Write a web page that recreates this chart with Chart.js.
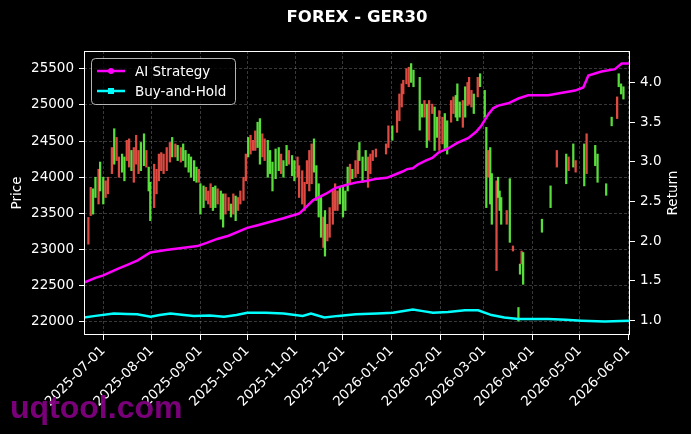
<!DOCTYPE html>
<html>
<head>
<meta charset="utf-8">
<script src="https://cdn.jsdelivr.net/npm/chart.js@4.4.0/dist/chart.umd.min.js"></script>
<style>
  html, body { margin: 0; padding: 0; background: #000; }
  #wrap { width: 691px; height: 434px; }
</style>
</head>
<body>
<div id="wrap"><canvas id="chart" width="691" height="434"></canvas></div>
<script>
// x values are days counted from 2025-07-01
const tickLabels = ['2025-07-01', '2025-08-01', '2025-09-01', '2025-10-01', '2025-11-01', '2025-12-01',
    '2026-01-01', '2026-02-01', '2026-03-01', '2026-04-01', '2026-05-01', '2026-06-01'];
const priceTicks = [22000, 22500, 23000, 23500, 24000, 24500, 25000, 25500];
const returnTicks = [1.0, 1.5, 2.0, 2.5, 3.0, 3.5, 4.0];

// candles (price axis)
const candleDay = [
    -9.5, -8, -6.5, -5, -3, -2, 0, 1.5, 3, 5.5, 7, 8.5, 10, 12, 13.5, 15, 16.5, 18, 19.5, 21,
    22.5, 24, 26, 27.5, 29, 30, 32.5, 34, 35.5, 37, 38.5, 40.5, 42.5, 44, 46, 47.5, 49.5, 51, 52.5, 54.5,
    56, 58, 59.5, 61, 62, 64, 65.5, 67, 68.5, 70, 71.5, 73, 75, 76.5, 78, 80, 81.5, 83, 84.5, 86,
    87.5, 89.5, 91, 92.5, 94, 95.5, 97, 98.5, 100, 101.5, 103,
    105, 106.5, 108, 110, 112, 113.5, 115, 117, 118.5, 120.5, 122, 124, 125, 127, 128.5, 130, 131.5, 133, 134.5, 136,
    137.5, 139, 140.5, 141.5, 143, 144.5, 146.5, 148, 149.5, 151, 153, 154.5, 156, 157.5, 159, 161, 162.5, 163.5, 165.5, 167.5,
    169, 170.5, 172, 174, 180.5, 182, 184.5, 187.5, 189, 190.5, 191.5, 193.5, 195, 196.5, 198, 202, 203.5, 205, 206.5, 208,
    210, 211.5, 213, 214.5, 216.5, 218, 219.5,
    222, 223.5, 225, 226, 227.5, 229.5, 231, 232.5, 233.5, 235, 236.5, 239, 240.5, 243.5, 244.5, 245.5, 247, 248, 251, 252,
    253, 254, 257.5, 259.5, 261.5, 265, 266, 267, 268, 280, 285.5, 289.5, 295.5, 297, 300, 301.5, 307, 308.5, 314, 315.5,
    321, 324.5, 328, 329, 330.5, 332
];
const candleOpen = [
    23445, 23860, 23490, 23720, 24110, 23810, 23630, 23950, 24000, 24410, 24180, 24550, 24280, 24070, 23950, 24510, 24530, 24090, 24410, 24580,
    24370, 24090, 24160, 24370, 23810, 23400, 24180, 24110, 24320, 24340, 24320, 24410, 24480, 24280, 24460, 24230, 24410, 24230, 24140, 24070,
    24000, 23950, 23930, 24110, 23490, 23580, 23860, 23810, 23910, 23540, 23580, 23840, 23420, 23310, 23770, 23720, 23450, 23770, 23400, 23720,
    23810, 24000, 24320, 24280, 24580, 24510, 24640, 24410, 24180, 24600, 24530,
    24000, 24050, 23810, 23980, 24090, 24320, 24000, 24160, 24370, 24020, 23950, 24280, 24160, 24090, 23930, 24230, 24370, 24460, 24070, 23680,
    23450, 23170, 23450, 22910, 23350, 23580, 23810, 23910, 23810, 23630, 23450, 23540, 23810, 24180, 23980, 24230, 24370, 24230, 23930, 24090,
    24280, 24320, 24370, 24390, 24460, 24710, 24510, 24920, 25150, 25290, 25340, 25500, 25520, 25310, 25250, 24650, 24830, 25060, 24410, 25060,
    25010, 24370, 24550, 24920, 24830, 24370, 24320,
    25060, 25110, 24830, 24780, 24830, 25060, 24830, 25310, 25380, 25200, 24880, 25380, 25250, 24830, 23580, 24370, 23630, 23350, 23950, 23720,
    23540, 23350, 23540, 23100, 23050, 22010, 22660, 22980, 22520, 23240, 23580, 24370, 23910, 24280, 24140, 24230, 23880, 24600, 24160, 23930,
    23750, 24710, 25110, 25250, 25150, 25080
];
const candleClose = [
    23075, 23470, 23840, 24000, 23630, 24210, 24000, 23720, 23770, 24050, 24670, 24230, 24000, 24320, 24280, 24230, 24140, 24370, 23930, 24180,
    24050, 24480, 24600, 24140, 24140, 23930, 23580, 23770, 23950, 24090, 24050, 24090, 24210, 24550, 24280, 24440, 24210, 24460, 24370, 24320,
    24280, 24230, 24140, 23930, 23910, 23880, 23680, 23630, 23580, 23860, 23880, 23630, 23810, 23770, 23490, 23540, 23630, 23490, 23740, 23540,
    23630, 23680, 23950, 24550, 24320, 24370, 24370, 24760, 24810, 24280, 24230,
    24510, 24370, 24210, 24390, 24410, 24050, 24230, 24440, 24180, 24300, 24230, 24000, 23720, 23630, 23540, 23910, 23810, 23910, 24530, 24160,
    23910, 23720, 23030, 23540, 23120, 23170, 23350, 23540, 23540, 23860, 23860, 23810, 24140, 23910, 24110, 24000, 24050, 24480, 24280, 24370,
    23860, 24050, 24230, 24280, 24320, 24410, 24710, 24620, 24780, 24970, 25150, 25290, 25250, 25570, 25480, 25380, 25010, 24830, 25010, 24510,
    24880, 24970, 24830, 24370, 24460, 24880, 24780,
    24760, 24880, 25130, 25290, 25040, 24690, 25250, 24990, 25010, 24970, 25150, 25110, 25430, 25200, 24690, 24000, 24410, 24050, 22710, 24000,
    23810, 23720, 23350, 23980, 22980, 22200, 22800, 22800, 22960, 23420, 23880, 24140, 24320, 24090, 24460, 24070, 24460, 24050, 24440, 24320,
    23910, 24830, 24810, 25430, 25290, 25250
];

// AI Strategy return (right axis)
const aiDay = [-12.3, -5, 0, 8.8, 15, 22, 30, 40, 51.4, 60, 66, 72.7, 80, 91.9, 98, 103.8, 115, 125, 129.4, 134,
    142.2, 148, 155, 161, 167.7, 175, 181, 184.8, 191, 194, 197.6, 201, 206.1, 210, 214, 220.1, 226, 232.9, 238, 241.4,
    245.7, 249, 252.1, 258.5, 264.9, 271.2, 284, 292, 301.1, 306.4, 309.6, 318, 326.6, 330.9, 336];
const aiReturn = [1.48, 1.54, 1.57, 1.65, 1.70, 1.76, 1.86, 1.89, 1.92, 1.94, 1.98, 2.03, 2.07, 2.17, 2.20, 2.23, 2.29, 2.35, 2.43, 2.52,
    2.60, 2.67, 2.71, 2.74, 2.76, 2.79, 2.80, 2.83, 2.88, 2.91, 2.92, 2.97, 3.02, 3.05, 3.12, 3.17, 3.24, 3.30, 3.38, 3.46,
    3.60, 3.68, 3.71, 3.74, 3.80, 3.84, 3.84, 3.87, 3.90, 3.94, 4.09, 4.14, 4.17, 4.24, 4.24];

// Buy-and-Hold return (right axis)
const bhDay = [-12.3, -5, 6.7, 15, 21.6, 30.2, 36, 42.9, 50, 57.8, 68, 77, 85, 91.9, 103.8, 115, 127.3, 132.6, 141.1, 150,
    161.3, 175, 184.8, 197.6, 204, 210.4, 220.1, 230.8, 239.3, 247.8, 256, 264.9, 284, 295, 305.3, 320, 336];
const bhReturn = [1.04, 1.06, 1.09, 1.085, 1.08, 1.05, 1.07, 1.09, 1.075, 1.06, 1.065, 1.05, 1.07, 1.10, 1.10, 1.09, 1.06, 1.09, 1.04, 1.06,
    1.08, 1.09, 1.10, 1.14, 1.12, 1.10, 1.11, 1.13, 1.13, 1.07, 1.04, 1.02, 1.02, 1.01, 1.00, 0.99, 1.00];

const dayOf = s => (Date.parse(s) - Date.parse('2025-07-01')) / 86400000;

const upColor = 'rgba(95,240,65,0.92)';
const downColor = 'rgba(240,80,70,0.92)';
const font = { family: 'DejaVu Sans', size: 13.5 };
const gridColor = 'rgba(255,255,255,0.28)';

// title, legend, frame, right axis title and watermark
const extras = {
    id: 'extras',
    afterDraw(chart) {
        const ctx = chart.ctx;
        const a = chart.chartArea;
        ctx.save();

        // frame
        ctx.strokeStyle = '#fff';
        ctx.lineWidth = 1;
        ctx.strokeRect(Math.round(a.left) + 0.5, Math.round(a.top) + 0.5,
            Math.round(a.right - a.left) - 1, Math.round(a.bottom - a.top) - 1);

        // title
        ctx.fillStyle = '#fff';
        ctx.font = 'bold 16.5px "DejaVu Sans"';
        ctx.textAlign = 'center';
        ctx.textBaseline = 'middle';
        ctx.fillText('FOREX - GER30', (a.left + a.right) / 2, 18);

        // right axis title, reading upwards
        ctx.save();
        ctx.translate(a.right + 43, (a.top + a.bottom) / 2);
        ctx.rotate(-Math.PI / 2);
        ctx.font = '13.5px "DejaVu Sans"';
        ctx.fillText('Return', 0, 0);
        ctx.restore();

        // legend
        const lx = a.left + 7, ly = a.top + 7, lw = 144, lh = 46;
        ctx.beginPath();
        ctx.roundRect(lx + 0.5, ly + 0.5, lw, lh, 4);
        ctx.fillStyle = 'rgba(0,0,0,0.8)';
        ctx.fill();
        ctx.strokeStyle = 'rgba(210,210,210,0.85)';
        ctx.stroke();
        const rows = chart.data.datasets.filter(d => d.type === 'line');
        rows.forEach((d, i) => {
            const y = ly + 13 + i * 20;
            ctx.strokeStyle = d.borderColor;
            ctx.fillStyle = d.borderColor;
            ctx.lineWidth = 2.5;
            ctx.beginPath();
            ctx.moveTo(lx + 6, y);
            ctx.lineTo(lx + 34, y);
            ctx.stroke();
            if (d.pointStyle === 'rect') {
                ctx.fillRect(lx + 17, y - 3, 6, 6);
            } else {
                ctx.beginPath();
                ctx.arc(lx + 20, y, 3, 0, Math.PI * 2);
                ctx.fill();
            }
            ctx.fillStyle = '#fff';
            ctx.font = '13.5px "DejaVu Sans"';
            ctx.textAlign = 'left';
            ctx.textBaseline = 'middle';
            ctx.fillText(d.label, lx + 44, y + 1);
        });

        // watermark
        ctx.fillStyle = 'rgba(128,0,128,0.95)';
        ctx.font = 'bold 32px "Liberation Sans"';
        ctx.textAlign = 'left';
        ctx.textBaseline = 'alphabetic';
        ctx.fillText('uqtool.com', 10, 418);
        ctx.restore();
    }
};

const ctx = document.getElementById('chart').getContext('2d');
new Chart(ctx, {
    type: 'bar',
    data: {
        datasets: [
            {
                type: 'line',
                label: 'AI Strategy',
                data: aiDay.map((d, i) => ({ x: d, y: aiReturn[i] })),
                yAxisID: 'y1',
                borderColor: '#ff00ff',
                backgroundColor: '#ff00ff',
                borderWidth: 2.5,
                pointRadius: 0,
                pointStyle: 'circle',
                tension: 0,
                order: 1
            },
            {
                type: 'line',
                label: 'Buy-and-Hold',
                data: bhDay.map((d, i) => ({ x: d, y: bhReturn[i] })),
                yAxisID: 'y1',
                borderColor: '#00ffff',
                backgroundColor: '#00ffff',
                borderWidth: 2.5,
                pointRadius: 0,
                pointStyle: 'rect',
                tension: 0,
                order: 2
            },
            {
                type: 'bar',
                label: 'Price',
                data: candleDay.map((d, i) => ({ x: d, y: [candleOpen[i], candleClose[i]] })),
                yAxisID: 'y',
                backgroundColor: c => {
                    const i = c.dataIndex;
                    if (i === undefined) return upColor;
                    return candleClose[i] >= candleOpen[i] ? upColor : downColor;
                },
                barThickness: 1.6,
                order: 3
            }
        ]
    },
    options: {
        responsive: false,
        animation: false,
        devicePixelRatio: 1,
        layout: { padding: { top: 51, left: 0, right: 0, bottom: 0 } },
        plugins: {
            legend: { display: false },
            tooltip: { enabled: false },
            title: { display: false }
        },
        scales: {
            x: {
                type: 'linear',
                offset: false,
                min: -12.3,
                max: 336.2,
                afterBuildTicks: s => { s.ticks = tickLabels.map(t => ({ value: dayOf(t) })); },
                afterFit: s => { s.height = 99; },
                ticks: {
                    color: '#fff',
                    font: font,
                    autoSkip: false,
                    minRotation: 45,
                    maxRotation: 45,
                    padding: 3,
                    callback: (v, i) => tickLabels[i]
                },
                grid: { offset: false, color: gridColor, lineWidth: 0.8, tickColor: '#fff', tickLength: 5, tickWidth: 1 },
                border: { display: false, dash: [3, 2] }
            },
            y: {
                position: 'left',
                min: 21820,
                max: 25744,
                afterBuildTicks: s => { s.ticks = priceTicks.map(v => ({ value: v })); },
                afterFit: s => { s.width = 84; },
                ticks: { color: '#fff', font: font, padding: 5, callback: v => String(v) },
                grid: { color: gridColor, lineWidth: 0.8, tickColor: '#fff', tickLength: 5, tickWidth: 1 },
                border: { display: false, dash: [3, 2] },
                title: { display: true, text: 'Price', color: '#fff', font: font, padding: { top: 9, bottom: 0 } }
            },
            y1: {
                position: 'right',
                min: 0.819,
                max: 4.399,
                afterBuildTicks: s => { s.ticks = returnTicks.map(v => ({ value: v })); },
                afterFit: s => { s.width = 61; },
                ticks: { color: '#fff', font: font, padding: 5, callback: v => v.toFixed(1) },
                grid: { drawOnChartArea: false, tickColor: '#fff', tickLength: 5, tickWidth: 1 },
                border: { display: false }
            }
        }
    },
    plugins: [extras]
});
</script>
</body>
</html>
